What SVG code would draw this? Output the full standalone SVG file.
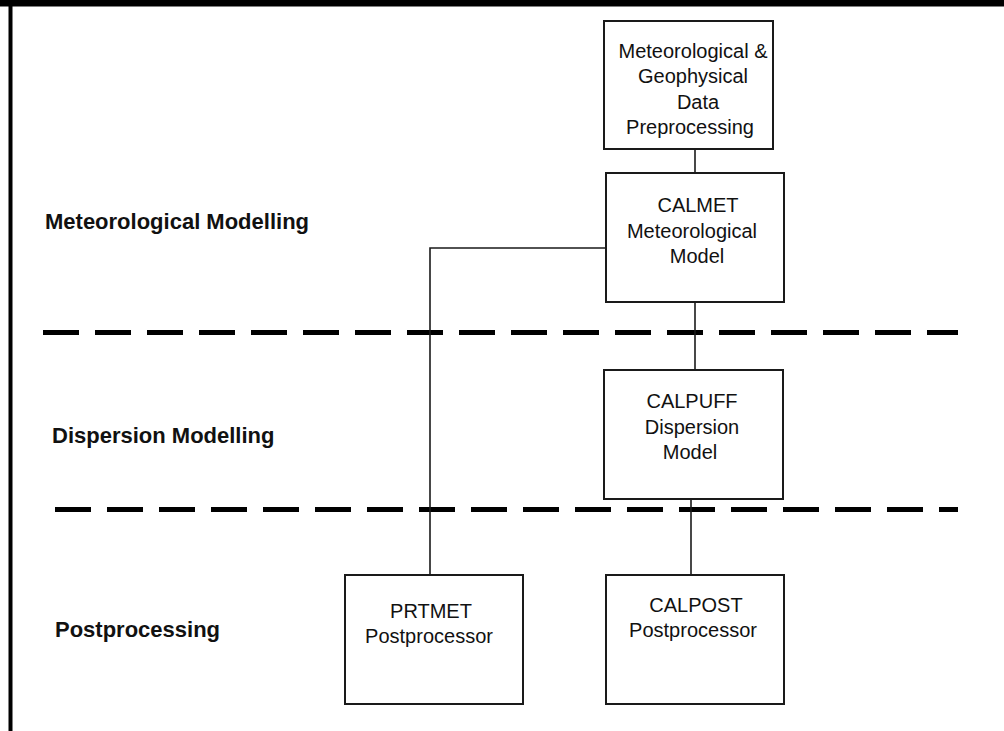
<svg xmlns="http://www.w3.org/2000/svg" width="1004" height="731" viewBox="0 0 1004 731">
<style>
.box{fill:#fff;stroke:#1a1a1a;stroke-width:2}
.conn{stroke:#1a1a1a;stroke-width:1.6;fill:none}
.dash{stroke:#000;stroke-width:5;stroke-dasharray:36 16;fill:none}
.nt{font-family:"Liberation Sans",Arial,sans-serif;font-size:20px;fill:#111;text-anchor:middle}
.lbl{font-family:"Liberation Sans",Arial,sans-serif;font-size:22px;font-weight:bold;fill:#111}
</style>
<rect x="0" y="0" width="1004" height="731" fill="#fff"/>
<rect x="0" y="0" width="1004" height="6.5" fill="#000"/>
<rect x="8.5" y="0" width="4" height="731" fill="#000"/>
<g id="separators">
<line class="dash" x1="43" y1="332.5" x2="958" y2="332.5"/>
<line class="dash" x1="55" y1="509.5" x2="958" y2="509.5"/>
</g>
<g id="labels">
<text class="lbl" x="45" y="229">Meteorological Modelling</text>
<text class="lbl" x="52" y="443">Dispersion Modelling</text>
<text class="lbl" x="55" y="637">Postprocessing</text>
</g>
<g id="connectors">
<line class="conn" x1="695" y1="149" x2="695" y2="173"/>
<polyline class="conn" points="606,248 430,248 430,575"/>
<line class="conn" x1="695" y1="302" x2="695" y2="370"/>
<line class="conn" x1="691" y1="499" x2="691" y2="575"/>
</g>
<g id="preproc">
<rect class="box" x="604" y="21" width="169" height="128"/>
<text class="nt" x="693" y="57.5">Meteorological &amp;</text>
<text class="nt" x="693" y="83">Geophysical</text>
<text class="nt" x="698" y="108.5">Data</text>
<text class="nt" x="690" y="134">Preprocessing</text>
</g>
<g id="calmet">
<rect class="box" x="606" y="173" width="178" height="129"/>
<text class="nt" x="698" y="212">CALMET</text>
<text class="nt" x="692" y="237.5">Meteorological</text>
<text class="nt" x="697" y="263">Model</text>
</g>
<g id="calpuff">
<rect class="box" x="604" y="370" width="179" height="129"/>
<text class="nt" x="692" y="408">CALPUFF</text>
<text class="nt" x="692" y="433.5">Dispersion</text>
<text class="nt" x="690" y="459">Model</text>
</g>
<g id="prtmet">
<rect class="box" x="345" y="575" width="178" height="129"/>
<text class="nt" x="431" y="618">PRTMET</text>
<text class="nt" x="429" y="643">Postprocessor</text>
</g>
<g id="calpost">
<rect class="box" x="606" y="575" width="178" height="129"/>
<text class="nt" x="696" y="612">CALPOST</text>
<text class="nt" x="693" y="637">Postprocessor</text>
</g>
</svg>
